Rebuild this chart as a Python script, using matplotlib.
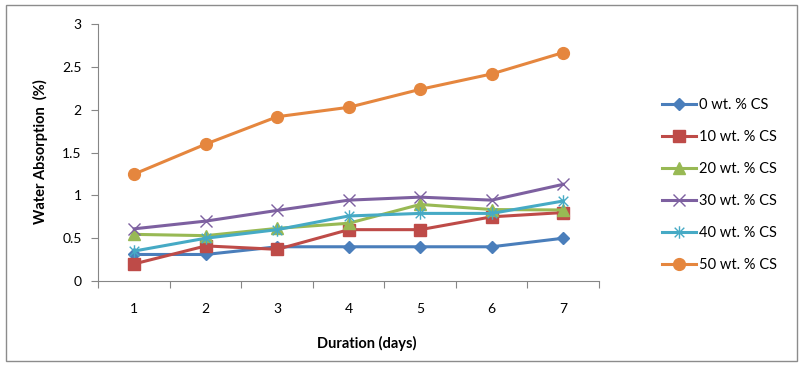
import matplotlib.pyplot as plt
from matplotlib.path import Path
from matplotlib.patches import Rectangle

plt.rcParams['font.family'] = ['Lato', 'DejaVu Sans']

days = [1, 2, 3, 4, 5, 6, 7]
labels = ['0 wt. % CS', '10 wt. % CS', '20 wt. % CS', '30 wt. % CS', '40 wt. % CS', '50 wt. % CS']
cs0 = [0.31, 0.31, 0.40, 0.40, 0.40, 0.40, 0.50]
cs10 = [0.20, 0.41, 0.37, 0.60, 0.60, 0.75, 0.80]
cs20 = [0.545, 0.53, 0.615, 0.675, 0.895, 0.835, 0.83]
cs30 = [0.61, 0.70, 0.825, 0.945, 0.98, 0.945, 1.13]
cs40 = [0.35, 0.50, 0.60, 0.76, 0.79, 0.79, 0.935]
cs50 = [1.25, 1.60, 1.92, 2.03, 2.24, 2.42, 2.67]
series = [cs0, cs10, cs20, cs30, cs40, cs50]

colors = ['#4A7EBB', '#BE4B48', '#98B954', '#7D60A0', '#46AAC5', '#E5863E']

# excel style star: an x with a vertical stroke
star = Path([(-1, -1), (1, 1), (-1, 1), (1, -1), (0, -1.3), (0, 1.3)],
            [Path.MOVETO, Path.LINETO, Path.MOVETO, Path.LINETO, Path.MOVETO, Path.LINETO])
markers = ['D', 's', '^', 'x', star, 'o']
msizes = [6.5, 8, 8.5, 8.5, 9, 8.5]

fig = plt.figure(figsize=(8.04, 3.66), dpi=100)
fig.patches.append(Rectangle((6 / 804, 5 / 366), 791 / 804, 356 / 366, transform=fig.transFigure,
                             fill=False, edgecolor='#8c8c8c', linewidth=1))
ax = fig.add_axes([98.5 / 804, 1 - 281 / 366, 500.5 / 804, 256.7 / 366])

for s, lab, c, mk, ms in zip(series, labels, colors, markers, msizes):
    if mk in ('x',) or mk is star:
        ax.plot(days, s, color=c, lw=2.2, marker=mk, ms=ms, mew=1, label=lab, clip_on=False)
    else:
        ax.plot(days, s, color=c, lw=2.2, marker=mk, ms=ms, mec=c, label=lab, clip_on=False)

ax.set_xlim(0.5, 7.5)
ax.set_ylim(0, 3)
ax.set_yticks([0, 0.5, 1, 1.5, 2, 2.5, 3])
ax.set_yticklabels(['0', '0.5', '1', '1.5', '2', '2.5', '3'])
ax.set_xticks([0.5 + i for i in range(8)])
ax.set_xticklabels([])
ax.set_xticks(days, minor=True)
ax.set_xticklabels([str(d) for d in days], minor=True)
ax.tick_params(axis='x', which='major', length=5, color='#868686', width=0.8)
ax.tick_params(axis='x', which='minor', length=0, pad=16, labelsize=10)
ax.tick_params(axis='y', length=5, color='#868686', width=0.8, pad=7, labelsize=10)
for sp in ['top', 'right']:
    ax.spines[sp].set_visible(False)
for sp in ['left', 'bottom']:
    ax.spines[sp].set_color('#868686')
    ax.spines[sp].set_linewidth(0.8)

fig.text(40 / 804, 1 - 152 / 366, 'Water Absorption  (%)', rotation=90, fontsize=10.5,
         fontweight='bold', ha='center', va='center')
fig.text(367 / 804, 1 - 343 / 366, 'Duration (days)', fontsize=10.5, fontweight='bold',
         ha='center', va='center')

ax.legend(loc='upper left', bbox_to_anchor=(662 / 804, 1 - 98 / 366), bbox_transform=fig.transFigure,
          frameon=False, fontsize=10.5, handlelength=2.3, handletextpad=0.25, labelspacing=1.23,
          borderpad=0, borderaxespad=0)

fig.savefig('out.png', dpi=100)
